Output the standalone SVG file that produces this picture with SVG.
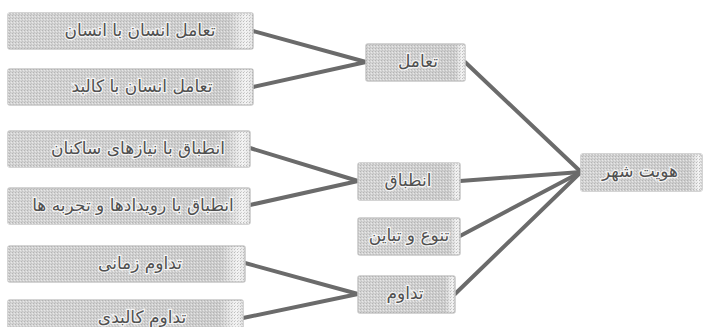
<svg xmlns="http://www.w3.org/2000/svg" width="705" height="327" viewBox="0 0 705 327">
<defs>
<linearGradient id="boxfill" x1="0" y1="0" x2="1" y2="0">
<stop offset="0" stop-color="#d4d4d4"/>
<stop offset="0.9" stop-color="#cccccc"/>
<stop offset="0.97" stop-color="#f4f4f4"/>
<stop offset="1" stop-color="#e2e2e2"/>
</linearGradient>
<pattern id="dots" width="3" height="3" patternUnits="userSpaceOnUse">
<rect x="0" y="0" width="1" height="1" fill="#a8a8a8" opacity="0.7"/>
<rect x="2" y="1" width="1" height="1" fill="#f2f2f2" opacity="0.7"/>
<rect x="1" y="2" width="1" height="1" fill="#b4b4b4" opacity="0.5"/>
</pattern>
</defs>
<style>
.box{fill:url(#boxfill);stroke:#c6c6c6;stroke-width:1.5}
.tex{fill:url(#dots);stroke:none}
.lbl{font-family:"DejaVu Sans","Noto Sans",sans-serif;font-size:17px;fill:#505050;text-anchor:middle;dominant-baseline:central;stroke:#f4f4f4;stroke-width:2.5;paint-order:stroke}
.con{stroke:#6b6b6b;stroke-width:4;fill:none;stroke-linecap:round}
</style>
<rect width="705" height="327" fill="#ffffff"/>
<g id="connectors">
<line class="con" x1="253" y1="31" x2="366" y2="62"/>
<line class="con" x1="253" y1="87" x2="366" y2="62"/>
<line class="con" x1="250" y1="148" x2="358" y2="181"/>
<line class="con" x1="250" y1="205" x2="358" y2="181"/>
<line class="con" x1="245" y1="263" x2="358" y2="294"/>
<line class="con" x1="243" y1="318" x2="358" y2="294"/>
<line class="con" x1="465" y1="62" x2="581" y2="172"/>
<line class="con" x1="460" y1="181" x2="581" y2="172"/>
<line class="con" x1="460" y1="236" x2="581" y2="172"/>
<line class="con" x1="455" y1="294" x2="581" y2="172"/>
</g>
<g id="n1"><rect class="box" x="8" y="13" width="245" height="36" rx="2"/><rect class="tex" x="8" y="13" width="245" height="36"/><text class="lbl" x="140" y="30" direction="rtl">تعامل انسان با انسان</text></g>
<g id="n2"><rect class="box" x="8" y="69" width="245" height="36" rx="2"/><rect class="tex" x="8" y="69" width="245" height="36"/><text class="lbl" x="142" y="86" direction="rtl">تعامل انسان با کالبد</text></g>
<g id="n3"><rect class="box" x="8" y="131" width="242" height="36" rx="2"/><rect class="tex" x="8" y="131" width="242" height="36"/><text class="lbl" x="138" y="148" direction="rtl">انطباق با نیازهای ساکنان</text></g>
<g id="n4"><rect class="box" x="8" y="188" width="242" height="36" rx="2"/><rect class="tex" x="8" y="188" width="242" height="36"/><text class="lbl" x="133" y="205" direction="rtl">انطباق با رویدادها و تجربه ها</text></g>
<g id="n5"><rect class="box" x="8" y="246" width="237" height="36" rx="2"/><rect class="tex" x="8" y="246" width="237" height="36"/><text class="lbl" x="140" y="263" direction="rtl">تداوم زمانی</text></g>
<g id="n6"><rect class="box" x="8" y="300" width="235" height="36" rx="2"/><rect class="tex" x="8" y="300" width="235" height="36"/><text class="lbl" x="142" y="317" direction="rtl">تداوم کالبدی</text></g>
<g id="m1"><rect class="box" x="366" y="44" width="99" height="37" rx="2"/><rect class="tex" x="366" y="44" width="99" height="37"/><text class="lbl" x="418" y="61" direction="rtl">تعامل</text></g>
<g id="m2"><rect class="box" x="358" y="163" width="102" height="37" rx="2"/><rect class="tex" x="358" y="163" width="102" height="37"/><text class="lbl" x="408" y="180" direction="rtl">انطباق</text></g>
<g id="m3"><rect class="box" x="358" y="218" width="102" height="37" rx="2"/><rect class="tex" x="358" y="218" width="102" height="37"/><text class="lbl" x="409" y="235" direction="rtl">تنوع و تباین</text></g>
<g id="m4"><rect class="box" x="358" y="276" width="97" height="37" rx="2"/><rect class="tex" x="358" y="276" width="97" height="37"/><text class="lbl" x="405" y="293" direction="rtl">تداوم</text></g>
<g id="r1"><rect class="box" x="581" y="154" width="121" height="37" rx="2"/><rect class="tex" x="581" y="154" width="121" height="37"/><text class="lbl" x="640" y="171" direction="rtl">هویت شهر</text></g>
</svg>
